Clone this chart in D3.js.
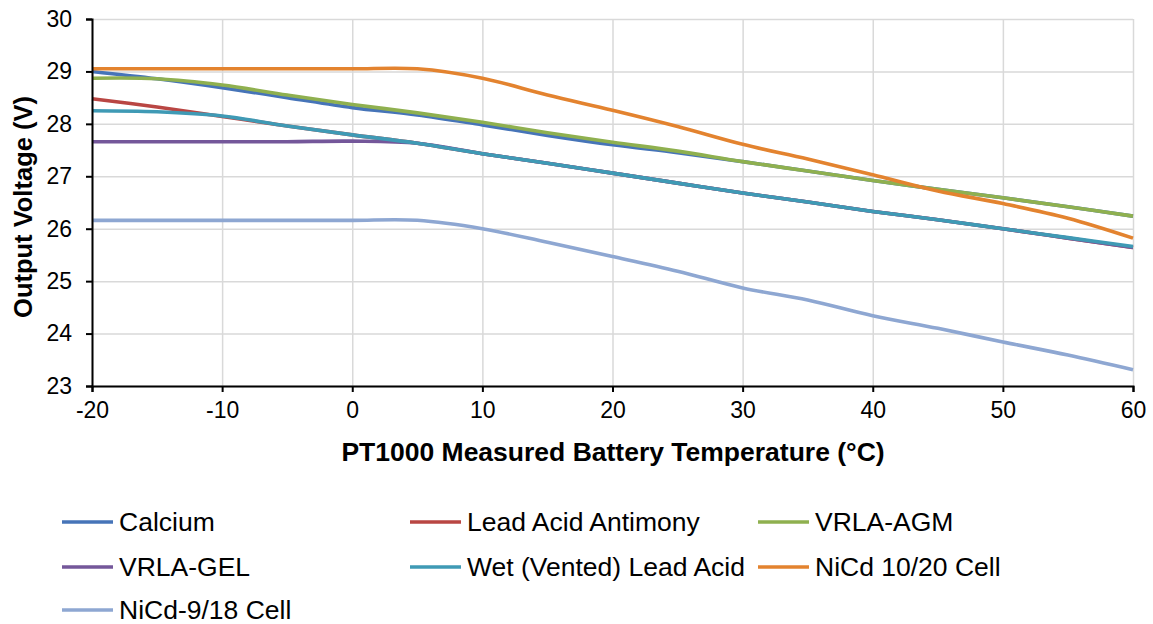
<!DOCTYPE html>
<html>
<head>
<meta charset="utf-8">
<script src="https://cdn.jsdelivr.net/npm/d3@7"></script>
<style>
  body { margin: 0; background: #fff; }
  svg text { font-family: Arial, "Liberation Sans", sans-serif; fill: #000; }
</style>
</head>
<body>
<div class="graph"></div>
<script>
// temperatures (°C) every 5 degrees
var temps = [-20, -15, -10, -5, 0, 5, 10, 15, 20, 25, 30, 35, 40, 45, 50, 55, 60];

// output voltage per battery type
var calcium   = [29.00, 28.86, 28.69, 28.50, 28.31, 28.17, 27.98, 27.78, 27.60, 27.45, 27.28, 27.10, 26.92, 26.75, 26.59, 26.42, 26.24];
var leadAntim = [28.48, 28.32, 28.14, 27.96, 27.79, 27.63, 27.43, 27.25, 27.06, 26.87, 26.68, 26.51, 26.33, 26.17, 26.00, 25.82, 25.64];
var vrlaAgm   = [28.87, 28.86, 28.74, 28.55, 28.37, 28.21, 28.03, 27.83, 27.65, 27.48, 27.28, 27.10, 26.92, 26.75, 26.59, 26.42, 26.24];
var vrlaGel   = [27.66, 27.66, 27.66, 27.66, 27.67, 27.63, 27.43, 27.25, 27.06, 26.87, 26.68, 26.51, 26.33, 26.17, 26.00, 25.82, 25.64];
var wetLead   = [28.25, 28.23, 28.15, 27.96, 27.79, 27.63, 27.43, 27.25, 27.06, 26.87, 26.68, 26.51, 26.33, 26.17, 26.00, 25.83, 25.66];
var nicd1020  = [29.05, 29.05, 29.05, 29.05, 29.05, 29.05, 28.87, 28.55, 28.26, 27.95, 27.61, 27.33, 27.03, 26.72, 26.48, 26.20, 25.82];
var nicd918   = [26.16, 26.16, 26.16, 26.16, 26.16, 26.16, 26.00, 25.74, 25.47, 25.19, 24.87, 24.64, 24.34, 24.10, 23.84, 23.59, 23.31];

var seriesNames = ["Calcium", "Lead Acid Antimony", "VRLA-AGM", "VRLA-GEL", "Wet (Vented) Lead Acid", "NiCd 10/20 Cell", "NiCd-9/18 Cell"];
var seriesVals = [calcium, leadAntim, vrlaAgm, vrlaGel, wetLead, nicd1020, nicd918];
var colors = ["#4674B8", "#B94643", "#8FB04F", "#74579A", "#3F9AB5", "#E3832F", "#8EA7D2"];

var xTicks = [-20, -10, 0, 10, 20, 30, 40, 50, 60];
var yTicks = [23, 24, 25, 26, 27, 28, 29, 30];

var width = 1153, height = 624;
var plot = {left: 92, right: 1133, top: 19, bottom: 386};

var svg = d3.select(".graph").append("svg")
    .attr("width", width)
    .attr("height", height);

var x = d3.scaleLinear().domain([-20, 60]).range([plot.left, plot.right]);
var y = d3.scaleLinear().domain([23, 30]).range([plot.bottom, plot.top]);

// plain hyphen for negatives, like the original
var fmt = function(d) { return String(d); };

// gridlines
svg.append("g")
    .attr("transform", "translate(0," + plot.bottom + ")")
    .call(d3.axisBottom(x).tickValues(xTicks).tickSize(-(plot.bottom - plot.top)).tickFormat(""))
    .call(function(g) {
      g.select(".domain").remove();
      g.selectAll("line").attr("stroke", "#d9d9d9").attr("stroke-width", 1.5);
    });

svg.append("g")
    .attr("transform", "translate(" + plot.left + ",0)")
    .call(d3.axisLeft(y).tickValues(yTicks).tickSize(-(plot.right - plot.left)).tickFormat(""))
    .call(function(g) {
      g.select(".domain").remove();
      g.selectAll("line").attr("stroke", "#d9d9d9").attr("stroke-width", 1.5);
    });

// lines (Excel style smoothing)
var line = d3.line()
    .x(function(d) { return x(d.t); })
    .y(function(d) { return y(d.v); })
    .curve(d3.curveCardinal.tension(0));

seriesVals.forEach(function(vals, i) {
  var pts = temps.map(function(t, j) { return {t: t, v: vals[j]}; });
  svg.append("path")
      .datum(pts)
      .attr("fill", "none")
      .attr("stroke", colors[i])
      .attr("stroke-width", 3.6)
      .attr("stroke-linejoin", "round")
      .attr("d", line);
});

// axes
var xAxis = svg.append("g")
    .attr("transform", "translate(0," + plot.bottom + ")")
    .call(d3.axisBottom(x).tickValues(xTicks).tickSize(6).tickPadding(5).tickFormat(fmt));
var yAxis = svg.append("g")
    .attr("transform", "translate(" + plot.left + ",0)")
    .call(d3.axisLeft(y).tickValues(yTicks).tickSize(6).tickPadding(14).tickFormat(fmt));

[xAxis, yAxis].forEach(function(g) {
  g.select(".domain").attr("stroke", "#000").attr("stroke-width", 2);
  g.selectAll(".tick line").attr("stroke", "#000").attr("stroke-width", 2);
  g.selectAll(".tick text").style("font-size", "23px").attr("fill", "#000");
});
xAxis.selectAll(".tick text").attr("dy", "0.9em");

// axis titles
svg.append("text")
    .attr("x", 613)
    .attr("y", 461)
    .attr("text-anchor", "middle")
    .style("font-size", "26.5px")
    .style("font-weight", "bold")
    .text("PT1000 Measured Battery Temperature (°C)");

svg.append("text")
    .attr("transform", "translate(32,207) rotate(-90)")
    .attr("text-anchor", "middle")
    .style("font-size", "25.5px")
    .style("font-weight", "bold")
    .text("Output Voltage (V)");

// legend
var legCols = [62, 410, 758];
var legRows = [522, 567, 610];
var legend = svg.append("g");
seriesNames.forEach(function(name, i) {
  var lx = legCols[i % 3], ly = legRows[Math.floor(i / 3)];
  legend.append("line")
      .attr("x1", lx).attr("x2", lx + 51)
      .attr("y1", ly).attr("y2", ly)
      .attr("stroke", colors[i])
      .attr("stroke-width", 3.6);
  legend.append("text")
      .attr("x", lx + 57)
      .attr("y", ly)
      .attr("dy", "0.35em")
      .style("font-size", "26.5px")
      .text(name);
});
</script>
</body>
</html>
